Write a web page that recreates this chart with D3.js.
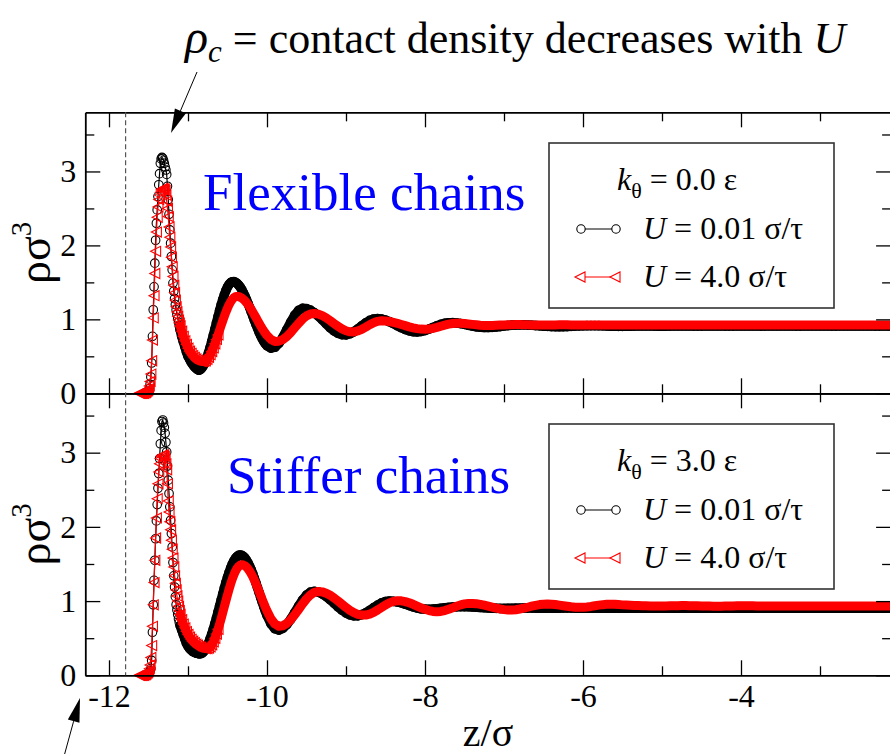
<!DOCTYPE html>
<html>
<head>
<meta charset="utf-8">
<script src="https://cdn.jsdelivr.net/npm/d3@7"></script>
<style>
  body { margin: 0; background: #fff; }
  svg { font-family: "Liberation Serif", serif; }
  svg text { font-family: "Liberation Serif", serif; fill: #000; }
</style>
</head>
<body>
<svg id="chart" width="890" height="754"></svg>
<script>
// z/sigma sampling grid: fine near the wall peak, coarser in the bulk
const zGrid = [
    ...d3.range(-11.62, -11.095, 0.01),
    ...d3.range(-11.08, -9.99, 0.02),
    ...d3.range(-9.95, -2.09, 0.05)
].map(v => +v.toFixed(2));

// k_theta = 0.0 eps, U = 0.01 sigma/tau (black circles)
const flexSlow = [
    null,null,null,null,null,null,null,0,0,0.01,
    0.01,0.02,0.03,0.06,0.12,0.22,0.41,0.77,1.13,1.44,
    1.76,2.07,2.30,2.48,2.66,2.82,2.97,3.11,3.17,3.19,
    3.18,3.15,3.11,3.06,3.02,2.96,2.80,2.62,2.42,2.21,
    2.03,1.85,1.67,1.49,1.38,1.28,1.20,1.13,1.07,1.01,
    0.96,0.91,0.86,
    0.77,0.70,0.63,0.56,0.50,0.46,0.42,0.39,0.36,0.34,
    0.32,0.312,0.324,0.348,0.383,0.43,0.486,0.55,0.62,0.70,
    0.783,0.867,0.953,1.037,1.12,1.197,1.27,1.334,1.39,1.437,
    1.472,1.496,1.508,1.51,1.50,1.487,1.465,1.437,1.403,1.362,
    1.317,1.268,1.215,1.16,1.103,1.046,0.988,0.932,0.878,0.826,
    0.779,0.736,0.70,0.668,0.643,
    0.61,0.623,0.675,0.757,0.859,0.963,1.055,1.121,1.149,1.145,
    1.124,1.089,1.044,0.992,0.938,0.886,0.843,0.811,0.793,0.79,
    0.805,0.833,0.871,0.913,0.953,0.985,1.005,1.01,1.004,0.989,
    0.968,0.942,0.914,0.887,0.863,0.844,0.833,0.83,0.836,0.849,
    0.868,0.89,0.913,0.932,0.947,0.954,0.955,0.95,0.943,0.932,
    0.92,0.908,0.899,0.893,0.89,0.89,0.892,0.897,0.903,0.91,
    0.916,0.921,0.924,0.925,0.925,0.923,0.92,0.916,0.912,0.908,
    0.905,0.902,0.901,0.90,0.901,0.903,0.906,0.909,0.911,0.913,
    0.914,0.915,0.915,0.914,0.912,0.91,0.908,0.907,0.906,0.906,
    0.907,0.908,0.909,0.91,0.91,0.91,0.91,0.909,0.908,0.908,
    0.908,0.909,0.91,0.91,0.91,0.91,0.91,0.909,0.909,0.909,
    0.91,0.91,0.91,0.91,0.91,0.909,0.909,0.909,0.91,0.91,
    0.91,0.91,0.91,0.91,0.909,0.909,0.91,0.91,0.91,0.91,
    0.91,0.91,0.91,0.909,0.909,0.91,0.91,0.91,0.91,0.91,
    0.91,0.91,0.909,0.909,0.91,0.91,0.91,0.91,0.91,0.91,
    0.91,0.91,0.91,0.909,0.909,0.91,0.91,0.91
];

// k_theta = 0.0 eps, U = 4.0 sigma/tau (red triangles)
const flexFast = [
    0,0,0,0,0,0,0,0.01,0.01,0.02,
    0.03,0.04,0.06,0.10,0.16,0.26,0.44,0.72,1.02,1.32,
    1.62,1.92,2.18,2.38,2.52,2.62,2.68,2.72,2.75,2.76,
    2.77,2.76,2.76,2.74,2.68,2.60,2.50,2.39,2.25,2.11,
    1.98,1.84,1.71,1.58,1.46,1.36,1.26,1.17,1.10,1.04,
    0.99,0.95,0.91,
    0.84,0.77,0.71,0.66,0.61,0.57,0.54,0.51,0.485,0.465,
    0.45,0.44,0.433,0.43,0.432,0.44,0.459,0.486,0.522,0.565,
    0.614,0.669,0.728,0.79,0.854,0.918,0.981,1.042,1.099,1.151,
    1.198,1.237,1.269,1.292,1.306,1.31,1.308,1.30,1.289,1.272,
    1.252,1.227,1.199,1.168,1.135,1.099,1.062,1.024,0.986,0.948,
    0.911,0.875,0.842,0.811,0.783,
    0.729,0.702,0.704,0.727,0.767,0.822,0.884,0.946,1.003,1.047,
    1.073,1.08,1.071,1.05,1.02,0.983,0.943,0.904,0.871,0.846,
    0.832,0.83,0.843,0.866,0.895,0.927,0.955,0.973,0.98,0.978,
    0.971,0.96,0.947,0.931,0.915,0.899,0.886,0.875,0.868,0.866,
    0.869,0.878,0.891,0.907,0.922,0.935,0.944,0.947,0.946,0.943,
    0.938,0.932,0.926,0.921,0.918,0.917,0.918,0.92,0.922,0.925,
    0.927,0.928,0.929,0.929,0.928,0.927,0.925,0.924,0.923,0.923,
    0.923,0.924,0.925,0.926,0.926,0.926,0.925,0.924,0.924,0.924,
    0.925,0.925,0.925,0.925,0.925,0.925,0.925,0.925,0.925,0.925,
    0.925,0.925,0.925,0.925,0.925,0.925,0.925,0.925,0.925,0.925,
    0.925,0.925,0.925,0.925,0.925,0.925,0.925,0.925,0.925,0.925,
    0.925,0.925,0.925,0.925,0.925,0.925,0.925,0.925,0.925,0.925,
    0.925,0.925,0.925,0.925,0.925,0.925,0.925,0.925,0.925,0.925,
    0.925,0.925,0.925,0.925,0.925,0.925,0.925,0.925,0.925,0.925,
    0.925,0.925,0.925,0.925,0.925,0.925,0.925,0.925,0.925,0.925,
    0.925,0.925,0.925,0.925,0.925,0.925,0.925,0.925
];

// k_theta = 3.0 eps, U = 0.01 sigma/tau (black circles)
const stiffSlow = [
    null,null,null,null,null,null,null,0,0,0.01,
    0.01,0.02,0.03,0.04,0.06,0.09,0.20,0.58,0.95,1.28,
    1.55,1.84,2.08,2.30,2.52,2.72,2.92,3.12,3.30,3.42,
    3.44,3.40,3.34,3.26,3.14,3.01,2.82,2.63,2.45,2.27,
    2.09,1.91,1.73,1.52,1.34,1.19,1.06,0.95,0.88,0.82,
    0.76,0.71,0.67,
    0.61,0.55,0.49,0.43,0.39,0.36,0.34,0.32,0.31,0.30,
    0.295,0.29,0.291,0.301,0.321,0.35,0.39,0.437,0.492,0.555,
    0.623,0.696,0.773,0.853,0.934,1.016,1.097,1.176,1.252,1.322,
    1.387,1.446,1.498,1.541,1.575,1.60,1.615,1.62,1.615,1.603,
    1.582,1.552,1.515,1.472,1.423,1.368,1.308,1.246,1.181,1.115,
    1.049,0.984,0.922,0.862,0.807,
    0.695,0.627,0.61,0.632,0.683,0.756,0.843,0.933,1.015,1.08,
    1.12,1.13,1.12,1.096,1.061,1.018,0.97,0.921,0.877,0.84,
    0.814,0.802,0.802,0.817,0.842,0.875,0.911,0.946,0.975,0.994,
    1.0,0.997,0.988,0.975,0.958,0.94,0.922,0.907,0.896,0.891,
    0.89,0.892,0.897,0.903,0.909,0.915,0.92,0.923,0.925,0.925,
    0.924,0.921,0.918,0.914,0.91,0.907,0.904,0.902,0.901,0.901,
    0.902,0.903,0.904,0.905,0.906,0.906,0.906,0.905,0.904,0.904,
    0.904,0.904,0.905,0.905,0.906,0.906,0.906,0.905,0.905,0.904,
    0.905,0.905,0.905,0.905,0.905,0.905,0.905,0.905,0.905,0.905,
    0.905,0.905,0.905,0.905,0.905,0.905,0.905,0.905,0.905,0.905,
    0.905,0.905,0.905,0.905,0.905,0.905,0.905,0.905,0.905,0.905,
    0.905,0.905,0.905,0.905,0.905,0.905,0.905,0.905,0.905,0.905,
    0.905,0.905,0.905,0.905,0.905,0.905,0.905,0.905,0.905,0.905,
    0.905,0.905,0.905,0.905,0.905,0.905,0.905,0.905,0.905,0.905,
    0.905,0.905,0.905,0.905,0.905,0.905,0.905,0.905,0.905,0.905,
    0.905,0.905,0.905,0.905,0.905,0.905,0.905,0.905
];

// k_theta = 3.0 eps, U = 4.0 sigma/tau (red triangles)
const stiffFast = [
    0,0,0,0,0,0,0,0.01,0.01,0.02,
    0.03,0.04,0.06,0.09,0.14,0.24,0.40,0.66,0.95,1.25,
    1.55,1.85,2.12,2.38,2.58,2.74,2.85,2.92,2.95,2.96,
    2.97,2.97,2.95,2.91,2.85,2.77,2.58,2.35,2.20,2.07,
    1.96,1.82,1.70,1.58,1.46,1.34,1.24,1.15,1.07,1.00,
    0.93,0.87,0.82,
    0.75,0.69,0.64,0.59,0.55,0.515,0.485,0.46,0.44,0.42,
    0.405,0.39,0.378,0.369,0.363,0.36,0.36,0.366,0.383,0.411,
    0.45,0.498,0.555,0.619,0.69,0.766,0.845,0.925,1.005,1.084,
    1.159,1.231,1.295,1.352,1.40,1.439,1.467,1.484,1.49,1.486,
    1.476,1.458,1.434,1.404,1.368,1.328,1.283,1.234,1.182,1.129,
    1.075,1.021,0.968,0.916,0.868,
    0.763,0.692,0.661,0.668,0.698,0.749,0.814,0.887,0.962,1.03,
    1.083,1.118,1.13,1.124,1.106,1.078,1.042,1.001,0.957,0.914,
    0.875,0.844,0.822,0.811,0.812,0.825,0.849,0.88,0.914,0.948,
    0.976,0.996,1.005,1.003,0.993,0.977,0.957,0.933,0.91,0.889,
    0.872,0.861,0.857,0.861,0.872,0.889,0.909,0.93,0.949,0.962,
    0.969,0.969,0.965,0.956,0.945,0.932,0.918,0.905,0.894,0.885,
    0.881,0.88,0.884,0.893,0.904,0.917,0.931,0.943,0.953,0.958,
    0.96,0.958,0.953,0.946,0.938,0.93,0.923,0.918,0.916,0.916,
    0.921,0.928,0.937,0.945,0.952,0.956,0.957,0.956,0.953,0.949,
    0.946,0.944,0.942,0.94,0.938,0.936,0.935,0.934,0.934,0.934,
    0.935,0.936,0.937,0.938,0.939,0.939,0.938,0.937,0.936,0.935,
    0.934,0.933,0.932,0.932,0.932,0.933,0.934,0.935,0.936,0.937,
    0.937,0.937,0.936,0.935,0.934,0.933,0.933,0.933,0.934,0.934,
    0.934,0.934,0.934,0.934,0.934,0.934,0.934,0.934,0.934,0.934,
    0.934,0.934,0.934,0.934,0.934,0.934,0.934,0.934,0.934,0.934,
    0.934,0.934,0.934,0.934,0.934,0.934,0.934,0.934
];

const xMajor = [-12, -10, -8, -6, -4];
const xMinor = [-11, -9, -7, -5, -3];
const yMajor = [0, 1, 2, 3];
const yMinor = [0.5, 1.5, 2.5, 3.5];
const wallZ = -11.79; // dashed line

[flexSlow, flexFast, stiffSlow, stiffFast].forEach((s, i) => {
    if (s.length !== zGrid.length) console.error('series ' + i + ' length ' + s.length + ' vs ' + zGrid.length);
});

const svg = d3.select('#chart');
const FONT = '"Liberation Serif", serif';

const x = d3.scaleLinear().domain([-12.3, -2.1]).range([85.3, 891.1]);

const panels = [
    { top: 112.3, bottom: 393.3, slow: flexSlow, fast: flexFast, showX: false,
      name: 'Flexible chains', nameX: 203, nameY: 210, k: '0.0' },
    { top: 393.3, bottom: 675.3, slow: stiffSlow, fast: stiffFast, showX: true,
      name: 'Stiffer chains', nameX: 227, nameY: 493, k: '3.0' }
];

const triPath = 'M-5,0L5,-5L5,5Z';

function toPoints(series) {
    return zGrid.map((z, i) => ({ z: z, v: series[i] })).filter(d => d.v != null);
}

function styleAxis(g) {
    g.attr('font-family', FONT);
    g.select('.domain').attr('stroke', '#000').attr('stroke-width', 1.8);
    g.selectAll('.tick line').attr('stroke', '#000').attr('stroke-width', 1.3);
    g.selectAll('.tick text').attr('font-size', 32).style('font-family', FONT).attr('fill', '#000');
}

function drawPanel(p) {
    const y = d3.scaleLinear().domain([0, 3.8]).range([p.bottom, p.top]);
    const g = svg.append('g');

    // curves
    const line = d3.line().x(d => x(d.z)).y(d => y(d.v));
    const slowPts = toPoints(p.slow);
    const fastPts = toPoints(p.fast);

    // dense markers overlap into a solid ribbon away from the peak
    g.append('path').datum(slowPts.filter(d => d.z >= -11.1))
        .attr('d', line).attr('fill', 'none').attr('stroke', '#000')
        .attr('stroke-width', 9.5).attr('stroke-linejoin', 'round').attr('stroke-linecap', 'round');
    g.append('path').datum(slowPts).attr('d', line)
        .attr('fill', 'none').attr('stroke', '#000').attr('stroke-width', 1.2);
    g.selectAll('.circ').data(slowPts).enter().append('circle')
        .attr('cx', d => x(d.z)).attr('cy', d => y(d.v)).attr('r', 4.3)
        .attr('fill', 'none').attr('stroke', '#000').attr('stroke-width', 1.1);

    g.append('path').datum(fastPts.filter(d => d.z >= -11.1))
        .attr('d', line).attr('fill', 'none').attr('stroke', '#ff0000')
        .attr('stroke-width', 9).attr('stroke-linejoin', 'round').attr('stroke-linecap', 'round');
    g.append('path').datum(fastPts).attr('d', line)
        .attr('fill', 'none').attr('stroke', '#ff0000').attr('stroke-width', 1.2);
    g.selectAll('.tri').data(fastPts.filter(d => d.z < -10.6)).enter().append('path')
        .attr('d', triPath)
        .attr('transform', d => `translate(${x(d.z)},${y(d.v)})`)
        .attr('fill', 'none').attr('stroke', '#ff0000').attr('stroke-width', 1.1);

    // axes: left
    const left = g.append('g').attr('transform', `translate(${x.range()[0]},0)`);
    left.call(d3.axisLeft(y).tickValues(yMajor).tickSize(-15).tickSizeOuter(0).tickPadding(9).tickFormat(d => String(d)));
    left.append('g').call(d3.axisLeft(y).tickValues(yMinor).tickSize(-9).tickSizeOuter(0).tickFormat(''))
        .select('.domain').remove();
    styleAxis(left);

    // right (mirror, no labels)
    const right = g.append('g').attr('transform', `translate(${x.range()[1]},0)`);
    right.call(d3.axisRight(y).tickValues(yMajor).tickSize(-15).tickSizeOuter(0).tickFormat(''));
    right.append('g').call(d3.axisRight(y).tickValues(yMinor).tickSize(-9).tickSizeOuter(0).tickFormat(''))
        .select('.domain').remove();
    styleAxis(right);

    // bottom
    const bottom = g.append('g').attr('transform', `translate(0,${p.bottom})`);
    bottom.call(d3.axisBottom(x).tickValues(xMajor).tickSize(-15).tickSizeOuter(0).tickPadding(9)
        .tickFormat(p.showX ? (d => String(d)) : ''));
    bottom.append('g').call(d3.axisBottom(x).tickValues(xMinor).tickSize(-9).tickSizeOuter(0).tickFormat(''))
        .select('.domain').remove();
    styleAxis(bottom);

    // top
    const topAx = g.append('g').attr('transform', `translate(0,${p.top})`);
    topAx.call(d3.axisTop(x).tickValues(xMajor).tickSize(-15).tickSizeOuter(0).tickFormat(''));
    topAx.append('g').call(d3.axisTop(x).tickValues(xMinor).tickSize(-9).tickSizeOuter(0).tickFormat(''))
        .select('.domain').remove();
    styleAxis(topAx);

    // y label
    const yl = g.append('text')
        .attr('transform', `translate(50,${(p.top + p.bottom) / 2}) rotate(-90)`)
        .attr('text-anchor', 'middle').attr('font-size', 46);
    yl.append('tspan').text('ρσ');
    yl.append('tspan').attr('font-size', 29).attr('dy', -19).text('3');

    // panel name
    g.append('text').attr('x', p.nameX).attr('y', p.nameY)
        .attr('font-size', 53).style('fill', '#0000ff').text(p.name);

    // legend
    const lx = 549, ly = p.top + 30.7;
    const lg = g.append('g').attr('transform', `translate(${lx},${ly})`);
    lg.append('rect').attr('width', 285).attr('height', 165)
        .attr('fill', '#fff').attr('stroke', '#333').attr('stroke-width', 1.6);
    const t = lg.append('text').attr('x', 68).attr('y', 47).attr('font-size', 32);
    t.append('tspan').attr('font-style', 'italic').text('k');
    t.append('tspan').attr('font-size', 22).attr('dy', 8).text('θ');
    t.append('tspan').attr('dy', -8).text(' = ' + p.k + ' ε');

    lg.append('line').attr('x1', 32).attr('x2', 67).attr('y1', 86).attr('y2', 86)
        .attr('stroke', '#000').attr('stroke-width', 1.2);
    [32, 67].forEach(cx => lg.append('circle').attr('cx', cx).attr('cy', 86).attr('r', 4.2)
        .attr('fill', '#fff').attr('stroke', '#000').attr('stroke-width', 1.1));
    const r1 = lg.append('text').attr('x', 94).attr('y', 96).attr('font-size', 32);
    r1.append('tspan').attr('font-style', 'italic').text('U');
    r1.append('tspan').text(' = 0.01 σ/τ');

    lg.append('line').attr('x1', 31).attr('x2', 66).attr('y1', 134).attr('y2', 134)
        .attr('stroke', '#ff0000').attr('stroke-width', 1.2);
    [31, 66].forEach(cx => lg.append('path').attr('d', triPath)
        .attr('transform', `translate(${cx},134)`)
        .attr('fill', '#fff').attr('stroke', '#ff0000').attr('stroke-width', 1.1));
    const r2 = lg.append('text').attr('x', 94).attr('y', 144).attr('font-size', 32);
    r2.append('tspan').attr('font-style', 'italic').text('U');
    r2.append('tspan').text(' = 4.0 σ/τ');
}

panels.forEach(drawPanel);

// dashed wall line through both panels
svg.append('line')
    .attr('x1', x(wallZ)).attr('x2', x(wallZ))
    .attr('y1', panels[0].top).attr('y2', panels[1].bottom)
    .attr('stroke', '#555').attr('stroke-width', 1.2).attr('stroke-dasharray', '5,3');

// x label
const xl = svg.append('text').attr('x', 488).attr('y', 746)
    .attr('text-anchor', 'middle').attr('font-size', 40);
xl.append('tspan').text('z/σ');

// annotation at the top
const ann = svg.append('text').attr('x', 185).attr('y', 53).attr('font-size', 44);
ann.append('tspan').attr('font-style', 'italic').attr('font-size', 48).text('ρ');
ann.append('tspan').attr('font-style', 'italic').attr('font-size', 31).attr('dy', 9).text('c');
ann.append('tspan').attr('dy', -9).text(' = contact density decreases with ');
ann.append('tspan').attr('font-style', 'italic').text('U');

function arrow(x1, y1, x2, y2) {
    const a = Math.atan2(y2 - y1, x2 - x1);
    const len = 24, hw = 6;
    const bx = x2 - len * Math.cos(a), by = y2 - len * Math.sin(a);
    svg.append('line').attr('x1', x1).attr('y1', y1).attr('x2', bx).attr('y2', by)
        .attr('stroke', '#000').attr('stroke-width', 1);
    svg.append('path')
        .attr('d', `M${x2},${y2}L${bx + hw * Math.sin(a)},${by - hw * Math.cos(a)}L${bx - hw * Math.sin(a)},${by + hw * Math.cos(a)}Z`)
        .attr('fill', '#000');
}
arrow(197, 72, 171, 133);
arrow(63, 760, 80, 698);
</script>
</body>
</html>
